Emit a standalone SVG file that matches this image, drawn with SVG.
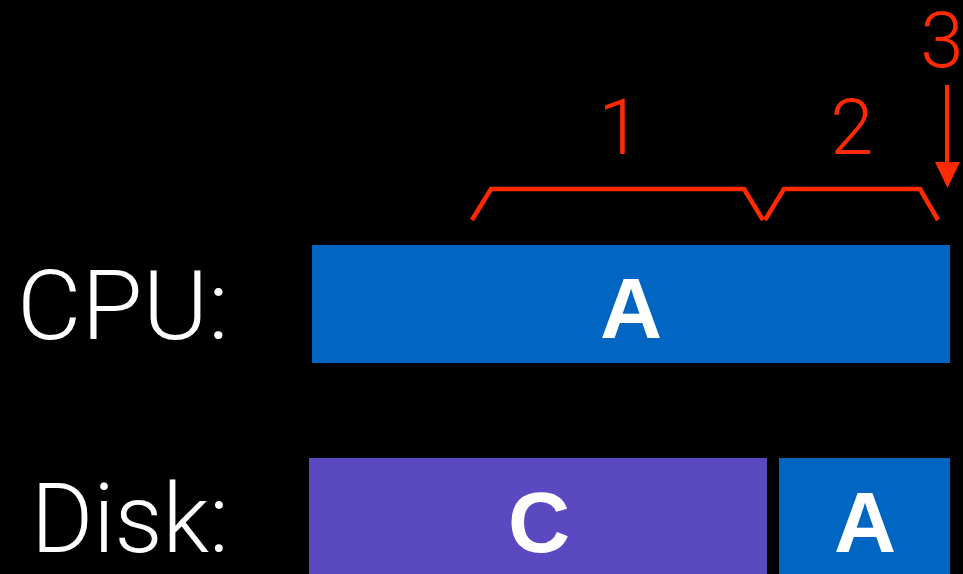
<svg xmlns="http://www.w3.org/2000/svg" width="963" height="574" viewBox="0 0 963 574">
  <style>
    .label { font-family: Roboto, "Liberation Sans", sans-serif; font-weight: 300; font-size: 97px; fill: #ffffff; }
    .num { font-family: Roboto, "Liberation Sans", sans-serif; font-weight: 300; font-size: 78px; fill: #ff2a00; text-anchor: middle; }
    .tag { font-family: "Liberation Sans", Arial, sans-serif; font-weight: bold; font-size: 86px; fill: #ffffff; text-anchor: middle; }
    .blue { fill: #0066c2; }
    .purple { fill: #5a49c0; }
    .red { stroke: #ff2a00; stroke-width: 4.5; fill: none; stroke-linejoin: miter; }
  </style>
  <rect width="963" height="574" fill="#000000"/>

  <!-- row labels -->
  <g id="cpu-label"><text class="label" x="17" y="339" textLength="212" lengthAdjust="spacingAndGlyphs">CPU:</text></g>
  <g id="disk-label"><text class="label" x="31" y="552" textLength="198" lengthAdjust="spacingAndGlyphs">Disk:</text></g>

  <!-- timeline bars -->
  <g id="cpu-a">
    <rect class="blue" x="312" y="245" width="638" height="118"/>
    <text class="tag" x="631" y="338">A</text>
  </g>
  <g id="disk-c">
    <rect class="purple" x="309" y="458" width="458" height="116"/>
    <text class="tag" x="539" y="552">C</text>
  </g>
  <g id="disk-a">
    <rect class="blue" x="779" y="458" width="171" height="116"/>
    <text class="tag" x="865" y="552">A</text>
  </g>

  <!-- brackets, numbers and the arrow -->
  <g id="annotations">
    <path class="red" d="M472,220 L491,189 L744,189 L763,220"/>
    <path class="red" d="M765,220 L784,189 L920,189 L938,220"/>
    <text class="num" x="620" y="154">1</text>
    <text class="num" x="852" y="154">2</text>
    <text class="num" x="942" y="67">3</text>
    <line x1="947" y1="85" x2="947" y2="164" stroke="#ff2a00" stroke-width="4"/>
    <path d="M935,162 L960,162 L947.5,188 Z" fill="#ff2a00"/>
  </g>
</svg>
